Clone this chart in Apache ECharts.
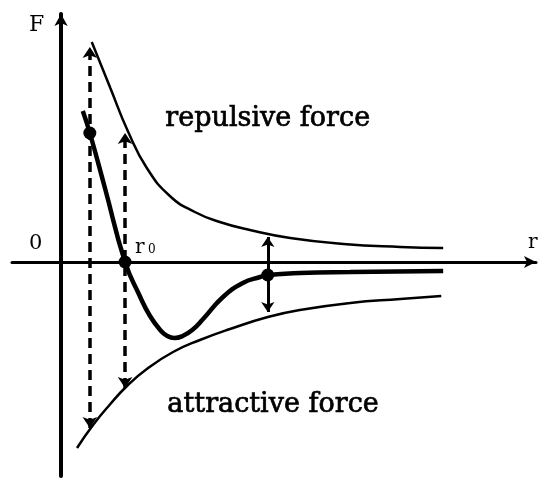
<!DOCTYPE html>
<html>
<head>
<meta charset="utf-8">
<script src="https://cdn.jsdelivr.net/npm/echarts@6/dist/echarts.min.js"></script>
<style>
  html, body { margin: 0; padding: 0; background: #fff; }
  #chart { width: 550px; height: 485px; }
</style>
</head>
<body>
<div id="chart"></div>
<script>
// r in units of r0, F in arbitrary units
var repulsive = [[0.48, 4.40], [0.77, 3.48], [1.05, 2.60], [1.34, 1.88], [1.70, 1.32], [2.09, 1.00],
  [2.48, 0.80], [2.95, 0.64], [3.58, 0.48], [4.41, 0.36], [5.30, 0.30], [5.97, 0.28]];
var attractive = [[0.25, -3.72], [0.50, -3.26], [0.77, -2.84], [1.03, -2.48], [1.34, -2.14], [1.75, -1.80],
  [2.17, -1.56], [2.64, -1.34], [3.23, -1.10], [3.73, -0.96], [4.52, -0.82], [5.30, -0.74], [5.94, -0.68]];
var net = [[0.34, 3.02], [0.45, 2.58], [0.69, 1.46], [1.00, 0.00], [1.23, -0.68], [1.39, -1.08], [1.55, -1.36],
  [1.66, -1.48], [1.77, -1.52], [1.90, -1.48], [2.05, -1.36], [2.22, -1.14], [2.53, -0.70], [2.84, -0.42],
  [3.11, -0.30], [3.23, -0.26], [3.73, -0.22], [4.52, -0.20], [5.97, -0.18]];
var dots = [[0.45, 2.58], [1.00, 0.00], [3.23, -0.26]];
// vertical arrows: [r, F bottom, F top]
var dashedArrows = [[0.45, -3.32, 4.30], [1.00, -2.52, 2.58]];
var solidArrows = [[3.23, -1.00, 0.50]];

var chart = echarts.init(document.getElementById('chart'));

function arrowLines(list) {
  return list.map(function (a) {
    return [{ coord: [a[0], a[1]] }, { coord: [a[0], a[2]] }];
  });
}

chart.setOption({
  animation: false,
  grid: { left: 12, right: 14, top: 14, bottom: 9, outerBoundsMode: 'none' },
  xAxis: {
    type: 'value', min: -0.766, max: 7.42,
    axisLine: { onZero: true, symbol: ['none', 'arrow'], symbolSize: [9, 12], lineStyle: { color: '#000', width: 3 } },
    axisTick: { show: false }, axisLabel: { show: false }, splitLine: { show: false }
  },
  yAxis: {
    type: 'value', min: -4.28, max: 4.96,
    axisLine: { onZero: true, symbol: ['none', 'arrow'], symbolSize: [10, 12], lineStyle: { color: '#000', width: 4 } },
    axisTick: { show: false }, axisLabel: { show: false }, splitLine: { show: false }
  },
  series: [
    {
      name: 'repulsive', type: 'line', data: repulsive, smooth: 0.5, showSymbol: false,
      lineStyle: { color: '#000', width: 2.5 }
    },
    {
      name: 'attractive', type: 'line', data: attractive, smooth: 0.5, showSymbol: false,
      lineStyle: { color: '#000', width: 2.5 }
    },
    {
      name: 'net', type: 'line', data: net, smooth: 0.5, showSymbol: false,
      lineStyle: { color: '#000', width: 4.5 },
      markLine: {
        silent: true, symbol: ['arrow', 'arrow'], symbolSize: 11,
        label: { show: false },
        lineStyle: { color: '#000', width: 3.5, type: [10, 6] },
        data: arrowLines(dashedArrows)
      }
    },
    {
      name: 'solid arrows', type: 'line', data: [],
      markLine: {
        silent: true, symbol: ['arrow', 'arrow'], symbolSize: 10,
        label: { show: false },
        lineStyle: { color: '#000', width: 3, type: 'solid' },
        data: arrowLines(solidArrows)
      }
    },
    {
      name: 'points', type: 'scatter', data: dots, symbolSize: 13,
      itemStyle: { color: '#000', opacity: 1 }
    }
  ],
  graphic: [
    { type: 'text', left: 29, top: 14, style: { text: 'F', font: '22px "DejaVu Serif"', fill: '#000' } },
    { type: 'text', left: 29, top: 233, style: { text: '0', font: '21px "DejaVu Serif"', fill: '#000' } },
    { type: 'text', left: 528, top: 233, style: { text: 'r', font: '20px "DejaVu Serif"', fill: '#000' } },
    { type: 'text', left: 135, top: 238, style: { text: 'r', font: '20px "DejaVu Serif"', fill: '#000' } },
    { type: 'text', left: 148, top: 244, style: { text: '0', font: '12px "DejaVu Serif"', fill: '#000' } },
    { type: 'text', left: 165, top: 105, style: { text: 'repulsive force', font: '27px "DejaVu Serif"', fill: '#000', stroke: '#000', lineWidth: 0.7 } },
    { type: 'text', left: 167, top: 391, style: { text: 'attractive force', font: '27px "DejaVu Serif"', fill: '#000', stroke: '#000', lineWidth: 0.7 } }
  ]
});
</script>
</body>
</html>
